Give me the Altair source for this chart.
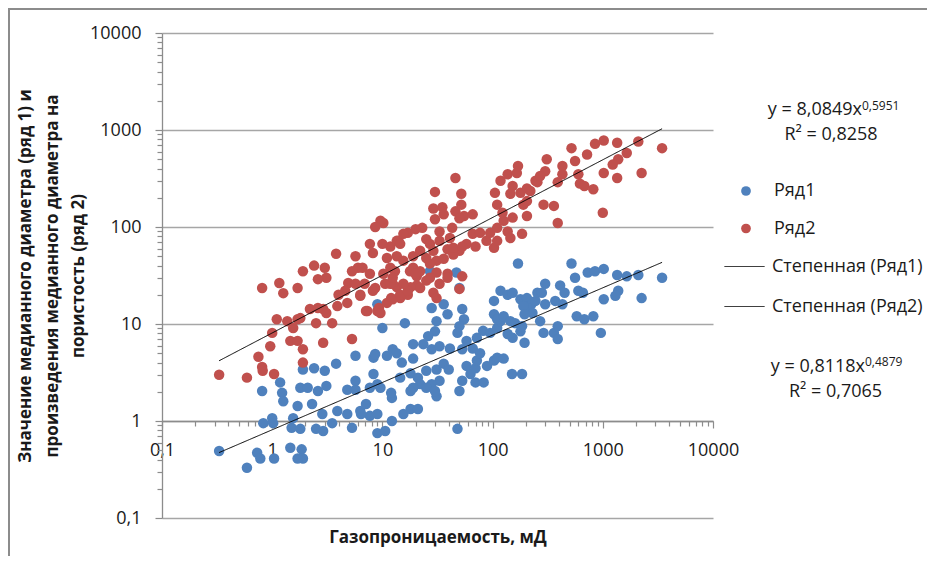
import altair as alt
import pandas as pd

# ---------------- data ----------------
# Ряд1 (blue): median pore-throat diameter vs gas permeability
ryad1_x = [
    0.33, 0.59, 0.73, 0.78, 1.04, 1.46, 1.85, 1.9, 1.7, 0.81,
    1.18, 1.23, 1.26, 1.8, 1.7, 2.3, 1.9, 2.4, 3.0, 3.8,
    2.1, 2.6, 3.1, 1.0, 1.02, 1.55, 1.5, 1.8, 2.5, 2.9,
    2.85, 3.5, 3.9, 4.8, 5.3, 4.8, 5.7, 5.7, 6.3, 7.7,
    5.7, 8.3, 8.3, 9.0, 9.0, 0.83,
    170, 47, 50, 27, 28, 36, 39, 31, 53, 55,
    50, 48, 30, 26, 10, 16, 19, 23.5, 28, 33,
    41, 8.6, 11, 12.4, 13.5, 15, 19, 14.5, 18, 21,
    25, 31, 36, 40, 33, 28, 22, 25, 19, 12.2,
    9.6, 7.7, 7.1, 6.4, 9, 15.5, 18, 21, 12.2, 10.6,
    31, 30, 50, 53, 63, 58, 70, 72, 70, 83,
    89, 103, 110, 126, 150, 185, 53, 66, 77, 58,
    72, 82, 95, 110, 118, 103, 110, 126, 145, 160,
    137, 152, 195, 179, 103, 118, 137, 152, 179, 205,
    225, 245, 205, 230, 255, 48, 9, 12, 18,
    520, 560, 730, 850, 1020, 1350, 1650, 2100, 3450, 1380,
    1300, 1020, 2250, 300, 410, 450, 600, 660, 430, 370,
    280, 300, 190, 195, 580, 680, 820, 270, 185, 290,
    360, 390, 390, 960,
]
ryad1_y = [
    0.49, 0.33, 0.47, 0.41, 0.41, 0.53, 0.51, 0.41, 0.41, 2.04,
    2.5, 1.95, 1.6, 2.2, 1.43, 1.5, 3.4, 3.5, 3.3, 3.9,
    2.2, 2.04, 2.3, 1.07, 0.95, 1.07, 0.85, 0.83, 0.83, 0.79,
    1.18, 0.95, 1.27, 1.18, 0.85, 2.1, 2.1, 2.6, 1.27, 1.13,
    4.7, 4.5, 3.05, 2.4, 0.75, 0.95,
    42, 34, 23.5, 35, 14.6, 16, 12.6, 10.7, 14.3, 11.2,
    9.5, 8.1, 8.4, 7.5, 9.1, 10.2, 6.2, 6.2, 5.5, 5.9,
    5.6, 4.9, 4.7, 5.5, 5.0, 4.0, 4.4, 2.8, 3.1, 2.8,
    3.3, 3.4, 3.9, 3.4, 2.6, 2.4, 2.4, 2.2, 2.2, 1.73,
    2.2, 2.2, 1.5, 1.18, 1.18, 1.18, 1.33, 1.33, 1.0, 0.79,
    1.8, 2.04, 2.04, 2.6, 3.05, 3.7, 3.5, 4.2, 2.5, 2.5,
    3.7, 4.2, 4.5, 4.4, 3.05, 3.05, 5.5, 5.6, 5.0, 6.7,
    7.2, 8.5, 8.1, 9.1, 10.7, 12.6, 11.2, 12, 10.7, 10.2,
    7.9, 7.2, 6.4, 8.4, 17.3, 22, 20, 21, 18, 18.5,
    16, 17.3, 14.6, 13, 21, 0.83, 16, 1.95, 2.04,
    42, 30, 34, 35, 37, 32, 31, 32, 30, 22,
    19.5, 18, 18.5, 26, 25, 21, 22, 21, 16, 17.3,
    21, 16, 15.3, 12.6, 12, 11.2, 12, 10.7, 9.5, 8.1,
    8.1, 7.0, 9.5, 8.1,
]

# Ряд2 (red): product of median diameter and porosity vs gas permeability
ryad2_x = [
    0.33, 0.59, 0.81, 0.82, 1.04, 0.75, 0.96, 1.0, 1.1, 1.37,
    1.55, 1.46, 1.7, 1.9, 1.9, 1.7, 1.8, 2.2, 2.6, 2.9,
    2.5, 3.5, 2.9, 5.3, 0.81, 1.16, 1.26, 1.7, 1.9, 2.4,
    3.0, 3.1, 2.6, 3.8, 5.7, 6.0, 5.3, 4.9, 4.6, 5.7,
    6.3, 3.9, 4.8, 4.0, 3.1, 7.3, 9.0, 7.7, 8.6,
    10.2, 46, 30, 52, 52, 29, 35, 36, 30, 46,
    55, 66, 50, 23, 20, 17, 14, 11.8, 10, 33,
    43, 25, 27, 33, 41, 39, 50, 58, 66, 77,
    88, 103, 95, 110, 126, 123, 110, 105, 118, 137,
    166, 170, 152, 145, 179, 205, 255, 190, 205, 152,
    137, 185, 145, 110,
    11, 13.5, 15.5, 19, 22, 29, 44, 31, 36, 27,
    11.8, 10.2, 13, 19, 20.5, 22, 31, 39, 53, 33,
    25, 20.5, 18, 13.5, 10.6, 50, 29, 17, 12, 31,
    245, 9.6, 8.6, 7.7, 8.2, 13.5, 15.5, 25, 6.6, 6.3,
    12.4, 14.5,
    7.1, 9.3, 9.6, 11, 12.4, 8.2, 6.9, 11.8, 14.5, 17,
    15.5, 12.4, 17.8, 20, 22, 27, 39, 44, 53, 70,
    14.5,
    310, 430, 520, 560, 720, 850, 1020, 1350, 2100, 1650,
    1380, 1230, 1020, 1350, 2250, 3450, 430, 390, 300, 270,
    600, 620, 680, 820, 220, 205, 290, 360, 390, 1000,
]
ryad2_y = [
    3.0, 2.8, 3.6, 3.3, 3.05, 4.6, 5.9, 8.1, 11.2, 10.7,
    9.1, 6.7, 6.7, 5.5, 4.0, 11.2, 11.5, 14.3, 14.6, 14.3,
    10.2, 10.2, 6.4, 7.0, 23.5, 26.5, 20.8, 23.5, 35, 40,
    38, 30, 29, 53, 50, 38, 35, 26.5, 22, 26,
    19.5, 15.3, 16.5, 20, 13, 13.6, 13.6, 33, 23.5,
    110, 320, 230, 220, 170, 155, 160, 135, 120, 145,
    130, 135, 123, 98, 95, 87, 72, 63, 67, 90,
    98, 75, 67, 72, 77, 59, 57, 67, 85, 87,
    72, 61, 87, 98, 116, 140, 170, 225, 300, 350,
    360, 425, 265, 220, 225, 250, 290, 170, 130, 125,
    90, 85, 77, 72,
    48, 50, 45, 50, 57, 57, 52, 45, 47, 42,
    38, 33, 35, 38, 31, 35, 34, 33, 31, 26,
    28, 25, 24, 24, 26, 23, 21, 20, 18.5, 18.5,
    300, 116, 100, 67, 54, 72, 85, 48, 38, 20,
    26, 18.5,
    13.6, 14.6, 13, 16.5, 18, 22, 26, 26, 20, 22,
    26, 30, 35, 33, 23.5, 30, 30, 61, 63, 63,
    67,
    500, 425, 650, 480, 560, 720, 780, 740, 760, 580,
    500, 440, 360, 320, 360, 650, 350, 290, 375, 335,
    350, 280, 265, 245, 235, 185, 170, 165, 110, 140,
]
assert len(ryad1_x) == len(ryad1_y)
assert len(ryad2_x) == len(ryad2_y)

series_names = ["Ряд1", "Ряд2"]
series_colors = ["#4F81BD", "#C0504D"]
trend_names = ["Степенная (Ряд1)", "Степенная (Ряд2)"]
# power trend lines as printed on the chart: y = a * x^b
trend_a = [0.8118, 8.0849]
trend_b = [0.4879, 0.5951]
eq_main = ["y = 0,8118x", "y = 8,0849x"]
eq_exp = ["0,4879", "0,5951"]
eq_r2 = ["R² = 0,7065", "R² = 0,8258"]

decades = [0.1, 1, 10, 100, 1000, 10000]
minor_x = [m * d for d in [0.1, 1, 10, 100, 1000] for m in range(2, 10)]
minor_y = [m * d for d in [0.1, 1, 10, 100, 1000] for m in range(2, 10)]

y_title = [
    "Значение медианного диаметра (ряд 1) и",
    "произведения медианного диаметра на",
    "пористость (ряд 2)",
]
x_title = "Газопроницаемость, мД"

# ---------------- tables ----------------
pts = pd.DataFrame({
    "x": ryad1_x + ryad2_x,
    "y": ryad1_y + ryad2_y,
    "ряд": [series_names[0]] * len(ryad1_x) + [series_names[1]] * len(ryad2_x),
})

trend_rows = []
for name, xs_, a, b in zip(trend_names, [ryad1_x, ryad2_x], trend_a, trend_b):
    for xv in (min(xs_), max(xs_)):
        trend_rows.append({"x": xv, "y": a * xv ** b, "trend": name})
trend = pd.DataFrame(trend_rows)

# ---------------- style ----------------
FONT = "Open Sans"
TEXT = "#1a1a1a"
GRID = "#a6a6a6"
AXC = "#8c8c8c"
W, H = 551, 485

xscale = alt.Scale(type="log", domain=[0.1, 10000], nice=False)
yscale = alt.Scale(type="log", domain=[0.1, 10000], nice=False)
label_expr = "replace(toString(datum.value), '.', ',')"

x_axis = alt.Axis(
    orient="bottom", values=decades, labelExpr=label_expr, grid=False,
    domainColor=AXC, domainWidth=1.3, tickColor=AXC, tickWidth=1.2, tickSize=7,
    labelPadding=13, labelFont=FONT, labelFontSize=18, labelColor=TEXT,
    labelFlush=False, labelOverlap=False,
    title=x_title, titleFont=FONT, titleFontSize=17, titleFontWeight="bold",
    titleColor=TEXT, titlePadding=70, offset=-H / 5,
)
y_axis = alt.Axis(
    orient="left", values=decades, labelExpr=label_expr, grid=True,
    gridColor=GRID, gridWidth=1.3, domainColor=AXC, domainWidth=1.3,
    tickColor=AXC, tickWidth=1.2, tickSize=7, labelPadding=14,
    labelFont=FONT, labelFontSize=18, labelColor=TEXT, labelOverlap=False,
    title=y_title, titleFont=FONT, titleFontSize=17, titleFontWeight="bold",
    titleColor=TEXT, titleLineHeight=26.5, titlePadding=2,
)
x_minor = alt.Axis(
    orient="bottom", values=minor_x, labels=False, domain=False, grid=False,
    tickColor=AXC, tickWidth=1.2, tickSize=5, title=None, offset=-H / 5,
)
y_minor = alt.Axis(
    orient="left", values=minor_y, labels=False, domain=False, grid=False,
    tickColor=AXC, tickWidth=1.2, tickSize=5, title=None,
)

frame = alt.Chart(pd.DataFrame({"f": [0]})).mark_rect(
    fillOpacity=0, stroke="#8c8c8c", strokeWidth=2
).encode(
    x=alt.value(-153), x2=alt.value(W + 250),
    y=alt.value(-24), y2=alt.value(H + 60),
)

points = alt.Chart(pts).mark_circle(size=110, opacity=1).encode(
    x=alt.X("x:Q", scale=xscale, axis=x_axis),
    y=alt.Y("y:Q", scale=yscale, axis=y_axis),
    color=alt.Color(
        "ряд:N",
        scale=alt.Scale(domain=series_names, range=series_colors),
        legend=alt.Legend(
            title=None, orient="none", legendX=575, legendY=149, padding=0,
            symbolType="circle", symbolSize=95, symbolStrokeWidth=0,
            labelFont=FONT, labelFontSize=18, labelColor=TEXT,
            labelOffset=19, rowPadding=19.5,
        ),
    ),
    order=alt.Order("ряд:N"),
)

lines = alt.Chart(trend).mark_line(color="black", strokeWidth=1).encode(
    x=alt.X("x:Q", scale=xscale, axis=x_minor),
    y=alt.Y("y:Q", scale=yscale, axis=y_minor),
    strokeDash=alt.StrokeDash(
        "trend:N",
        scale=alt.Scale(domain=trend_names, range=[[1, 0], [1, 0]]),
        legend=alt.Legend(
            title=None, orient="none", legendX=562, legendY=213, padding=0,
            symbolType="stroke", symbolSize=1600, symbolStrokeColor="black",
            symbolStrokeWidth=1, labelFont=FONT, labelFontSize=18,
            labelColor=TEXT, labelOffset=7, rowPadding=10,
        ),
    ),
)


def text_layer(txt, x, y, size, align):
    return alt.Chart(pd.DataFrame({"t": [txt]})).mark_text(
        align=align, baseline="alphabetic", font=FONT, fontSize=size, color=TEXT
    ).encode(x=alt.value(x), y=alt.value(y), text="t:N")


texts = [
    text_layer(eq_main[1], 700, 82, 18, "right"),
    text_layer(eq_exp[1], 700, 76.5, 12, "left"),
    text_layer(eq_r2[1], 669, 107, 18, "center"),
    text_layer(eq_main[0], 703, 339, 18, "right"),
    text_layer(eq_exp[0], 703, 333, 12, "left"),
    text_layer(eq_r2[0], 673.5, 364, 18, "center"),
]

chart = alt.layer(frame, points, lines, *texts).resolve_axis(
    x="independent", y="independent"
).properties(
    width=W, height=H,
    autosize=alt.AutoSizeParams(type="none"),
    padding={"left": 154, "top": 25, "right": 214, "bottom": 38},
    background="white",
).configure_view(stroke=None)

chart.save("out.html", embed_options={"renderer": "svg", "actions": False})
